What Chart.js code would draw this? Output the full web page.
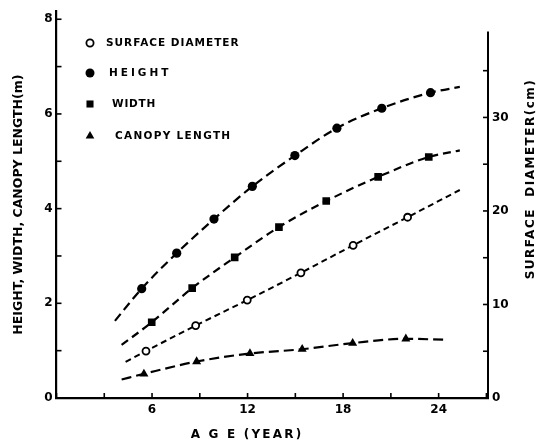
<!DOCTYPE html>
<html><head><meta charset="utf-8">
<script src="https://cdn.jsdelivr.net/npm/chart.js@4.4.1/dist/chart.umd.min.js"></script>
<style>html,body{margin:0;padding:0;background:#fff}#wrap{width:545px;height:448px;position:relative}</style>
</head><body><div id="wrap"><canvas id="c" width="545" height="448"></canvas></div>
<script>
// ---- data (age in years) ----
const heightAge  = [3.67, 5.35, 7.55, 9.89, 12.30, 14.97, 17.61, 20.43, 23.49, 25.33];
const heightM    = [1.63, 2.31, 3.06, 3.78, 4.47, 5.12, 5.70, 6.12, 6.45, 6.57];
const widthAge   = [4.09, 5.98, 8.52, 11.19, 13.97, 16.94, 20.20, 23.38, 25.33];
const widthM     = [1.12, 1.60, 2.32, 2.97, 3.61, 4.16, 4.67, 5.09, 5.23];
const surfaceAge = [4.34, 5.62, 8.74, 11.98, 15.35, 18.63, 22.05, 25.33];
const surfaceCm  = [3.85, 5.02, 7.74, 10.47, 13.39, 16.33, 19.33, 22.24];
const canopyAge  = [4.09, 5.49, 8.80, 12.15, 15.43, 18.60, 21.94, 24.50];
const canopyM    = [0.39, 0.51, 0.77, 0.94, 1.03, 1.16, 1.25, 1.23];

const ageTicks   = [0, 3, 6, 9, 12, 15, 18, 21, 24, 27];
const ageLabels  = [6, 12, 18, 24];
const meterTicks = [0, 1, 2, 3, 4, 5, 6, 7, 8];
const meterLabels= [0, 2, 4, 6, 8];
const cmTicks    = [0, 5, 10, 15, 20, 25, 30, 35];
const cmLabels   = [0, 10, 20, 30];

const legendNames = ['SURFACE DIAMETER', 'HEIGHT', 'WIDTH', 'CANOPY LENGTH'];
const xTitle = 'A G E (YEAR)';
const yTitle = 'HEIGHT, WIDTH, CANOPY LENGTH(m)';
const y2Title = 'SURFACE  DIAMETER(cm)';

// ---- styling ----
const FONT = '"DejaVu Sans", sans-serif';
const pts = (xs, ys) => xs.map((v, i) => ({x: v, y: ys[i]}));
const endsHidden = (n, r) => Array.from({length: n}, (_, i) => (i === 0 || i === n - 1) ? 0 : r);

const datasets = [
  {label: legendNames[0], data: pts(surfaceAge, surfaceCm), yAxisID: 'y2',
   borderColor: '#000', borderWidth: 2, borderDash: [6, 4], pointStyle: 'circle',
   pointRadius: endsHidden(surfaceAge.length, 3.5), pointBorderWidth: 1.8,
   pointBackgroundColor: '#fff', pointBorderColor: '#000',
   legendRadius: 3.6, legendFill: '#fff', legendX: 106, legendY: 43, legendSpacing: 1.0},
  {label: legendNames[1], data: pts(heightAge, heightM), yAxisID: 'y',
   borderColor: '#000', borderWidth: 2.2, borderDash: [9, 5], pointStyle: 'circle',
   pointRadius: endsHidden(heightAge.length, 4.6), pointBorderWidth: 0,
   pointBackgroundColor: '#000', pointBorderColor: '#000',
   legendRadius: 4.5, legendFill: '#000', legendX: 109, legendY: 73, legendSpacing: 3.0},
  {label: legendNames[2], data: pts(widthAge, widthM), yAxisID: 'y',
   borderColor: '#000', borderWidth: 2.2, borderDash: [8, 5], pointStyle: 'rect',
   pointRadius: endsHidden(widthAge.length, 5.4), pointBorderWidth: 0,
   pointBackgroundColor: '#000', pointBorderColor: '#000',
   legendRadius: 5, legendFill: '#000', legendX: 112, legendY: 104, legendSpacing: 0.8},
  {label: legendNames[3], data: pts(canopyAge, canopyM), yAxisID: 'y',
   borderColor: '#000', borderWidth: 2.2, borderDash: [10, 5], pointStyle: 'triangle',
   pointRadius: endsHidden(canopyAge.length, 5.2), pointBorderWidth: 0,
   pointBackgroundColor: '#000', pointBorderColor: '#000',
   legendRadius: 5, legendFill: '#000', legendX: 115, legendY: 136, legendSpacing: 1.3}
];
datasets.forEach(d => { d.fill = false; d.cubicInterpolationMode = 'monotone'; d.pointHoverRadius = 0; });

const cmAxisTop = 39.2;

const deco = {
  id: 'deco',
  afterDraw(chart) {
    const ctx = chart.ctx;
    const {x, y, y2} = chart.scales;
    ctx.save();
    ctx.strokeStyle = '#000'; ctx.fillStyle = '#000'; ctx.lineWidth = 1.6;
    const seg = (a, b, c, d) => { ctx.beginPath(); ctx.moveTo(a, b); ctx.lineTo(c, d); ctx.stroke(); };
    // inward tick marks
    ageTicks.forEach(v => { const p = x.getPixelForValue(v); seg(p, x.top, p, x.top - 5); });
    meterTicks.forEach(v => { const p = y.getPixelForValue(v); seg(y.right, p, y.right + 5, p); });
    cmTicks.forEach(v => { const p = y2.getPixelForValue(v); seg(y2.left, p, y2.left - 5, p); });
    // right axis line (ends below the top of the frame)
    ctx.lineWidth = 2;
    seg(y2.left, y2.getPixelForValue(0) + 1, y2.left, y2.getPixelForValue(cmAxisTop));
    // titles
    ctx.font = 'bold 12px ' + FONT;
    ctx.textAlign = 'center'; ctx.textBaseline = 'middle';
    ctx.letterSpacing = '2.2px';
    ctx.fillText(xTitle, 247, 435);
    ctx.save();
    ctx.translate(531, 179); ctx.rotate(-Math.PI / 2);
    ctx.letterSpacing = '1.5px';
    ctx.fillText(y2Title, 0, 0);
    ctx.restore();
    // legend
    ctx.font = 'bold 10.5px ' + FONT;
    ctx.textAlign = 'left';
    chart.data.datasets.forEach(d => {
      ctx.fillStyle = d.legendFill; ctx.strokeStyle = '#000'; ctx.lineWidth = 1.8;
      Chart.helpers.drawPoint(ctx, {pointStyle: d.pointStyle, radius: d.legendRadius,
        borderWidth: d.pointStyle === 'circle' && d.legendFill === '#fff' ? 1.8 : 0, rotation: 0}, 90, d.legendY);
      ctx.fillStyle = '#000';
      ctx.letterSpacing = d.legendSpacing + 'px';
      ctx.fillText(d.label, d.legendX, d.legendY);
    });
    ctx.restore();
  }
};

new Chart(document.getElementById('c'), {
  type: 'line',
  data: {datasets},
  options: {
    responsive: false, animation: false, devicePixelRatio: 1,
    layout: {padding: {top: 8, left: 0, right: 0, bottom: 0}},
    plugins: {legend: {display: false}, tooltip: {enabled: false}},
    scales: {
      x: {type: 'linear', min: 0, max: 27.1, position: 'bottom',
        grid: {display: false, drawTicks: false}, border: {display: true, color: '#000', width: 2.2},
        afterBuildTicks: s => { s.ticks = ageTicks.map(v => ({value: v})); },
        afterFit: s => { s.height = 50; },
        ticks: {color: '#000', padding: 5, maxRotation: 0, autoSkip: false,
          font: {family: FONT, size: 12, weight: 'bold'},
          callback: v => ageLabels.includes(v) ? String(v) : ''}},
      y: {type: 'linear', min: 0, max: 8.17, position: 'left',
        grid: {display: false, drawTicks: false}, border: {display: true, color: '#000', width: 2.2},
        afterBuildTicks: s => { s.ticks = meterTicks.map(v => ({value: v})); },
        afterFit: s => { s.width = 56.5; },
        title: {display: true, text: yTitle, color: '#000', padding: {top: 11, bottom: 0},
          font: {family: FONT, size: 12.5, weight: 'bold'}},
        ticks: {color: '#000', padding: 4, autoSkip: false,
          font: {family: FONT, size: 12, weight: 'bold'},
          callback: v => meterLabels.includes(v) ? String(v) : ''}},
      y2: {type: 'linear', min: 0, max: 41.36, position: 'right',
        grid: {display: false, drawTicks: false}, border: {display: false},
        afterBuildTicks: s => { s.ticks = cmTicks.map(v => ({value: v})); },
        afterFit: s => { s.width = 57; },
        ticks: {color: '#000', padding: 4, autoSkip: false,
          font: {family: FONT, size: 12, weight: 'bold'},
          callback: v => cmLabels.includes(v) ? String(v) : ''}}
    }
  },
  plugins: [deco]
});
</script></body></html>
